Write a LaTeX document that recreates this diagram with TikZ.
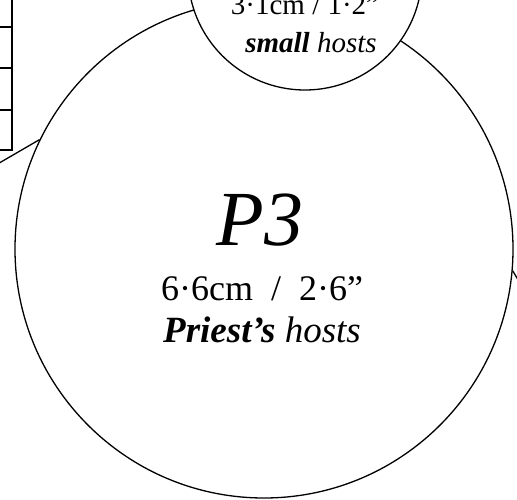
\documentclass[tikz,border=0pt]{standalone}
\usepackage{fontspec}
\setmainfont{Liberation Serif}
\begin{document}
\begin{tikzpicture}[x=1pt,y=-1pt,
  ring/.style={circle,draw,line width=1.3pt,inner sep=0pt},
  rule/.style={line width=1.4pt},
  lbl/.style={anchor=base,inner sep=0pt}]
\useasboundingbox (0,0) rectangle (517,500);
\clip (0,0) rectangle (517,500);
% left table fragment
\draw[rule] (12,-5) -- (12,150) -- (-5,150);
\draw[rule] (-5,27) -- (12,27);
\draw[rule] (-5,68) -- (12,68);
\draw[rule] (-5,110) -- (12,110);
% big circle
\node[ring,minimum size=498pt] (big) at (264,249) {};
\coordinate (lfree) at (-30,180);
\coordinate (rfree) at (530,300);
\draw[line width=1.3pt] (lfree) -- (big.154.6);
\draw[line width=1.3pt] (big.-5.5) -- (rfree);
% small circle
\node[ring,fill=white,minimum size=234pt] (small) at (305,-27) {};
\node[lbl,font=\fontsize{29}{32}\selectfont] (st1) at (305,15) {3·1cm / 1·2”};
\node[lbl,font=\fontsize{29}{32}\selectfont] (st2) at (311,53) {\textbf{\textit{small}} \textit{hosts}};
% texts in big circle
\node[lbl,font=\fontsize{78}{80}\selectfont\itshape] (p3) at (260,245) {P3};
\node[lbl,font=\fontsize{36}{40}\selectfont] (size) at (262,300) {6·6cm\ \ /\ \ 2·6”};
\node[lbl,font=\fontsize{37}{40}\selectfont] (host) at (262,342) {\textbf{\textit{Priest’s}} \textit{hosts}};
\end{tikzpicture}
\end{document}
